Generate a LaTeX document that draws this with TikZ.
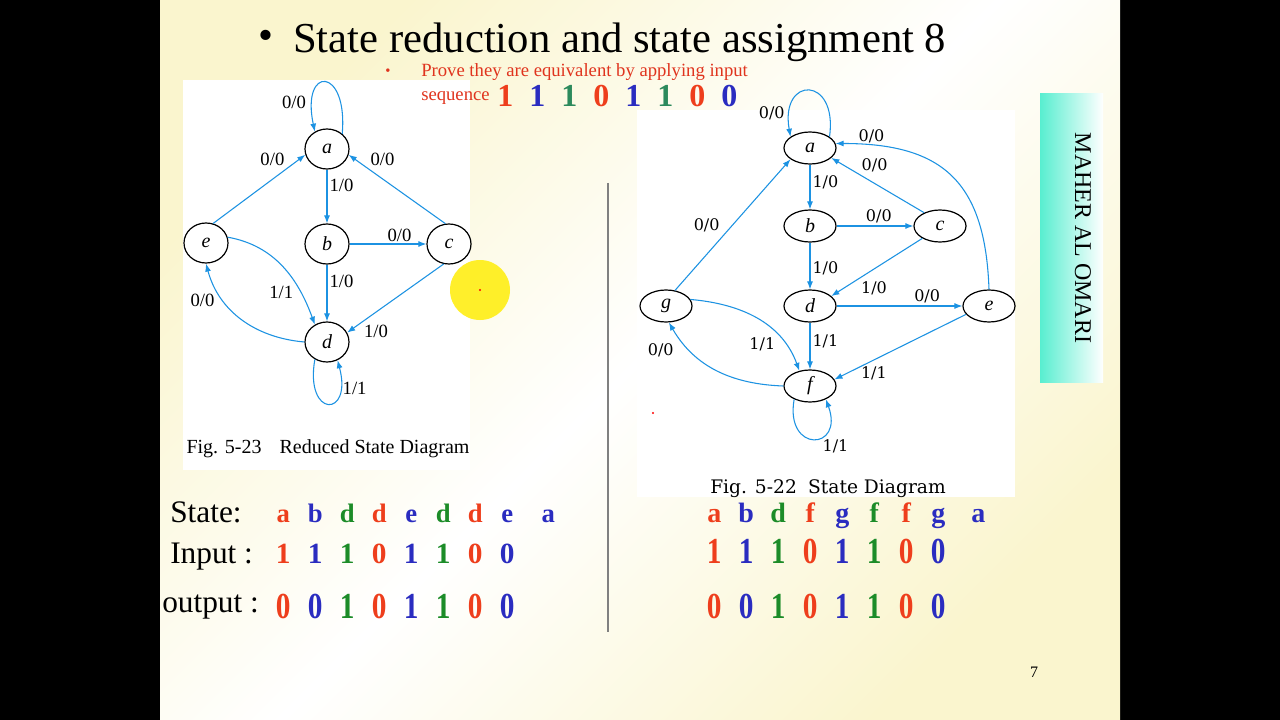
\documentclass[tikz,border=0pt]{standalone}
\usepackage{fontspec}
\setmainfont{Liberation Serif}
\newfontfamily\figfont{DejaVu Serif}
\usetikzlibrary{arrows.meta,shapes.geometric}
\definecolor{AzulFlecha}{RGB}{28,146,226}
\definecolor{RojoSec}{RGB}{238,62,28}
\definecolor{AzulSec}{RGB}{42,44,192}
\definecolor{VerdeSec}{RGB}{28,140,40}
\definecolor{VerdeAgua}{RGB}{44,138,92}
\definecolor{RojoTexto}{RGB}{224,52,30}
\definecolor{CremaFondo}{RGB}{250,245,206}
\definecolor{TurquesaAutor}{RGB}{88,238,208}
\definecolor{AmarilloPuntero}{RGB}{255,238,20}
\newcommand{\casilla}[2]{\makebox[24pt]{\textcolor{#1}{#2}}}

\begin{document}
\begin{tikzpicture}[x=0.75pt,y=0.75pt,>={Latex[length=6pt,width=4.5pt]},
  estado/.style={draw,ellipse,line width=0.9pt,inner sep=0pt,minimum width=33pt,minimum height=30pt,font=\fontsize{15}{15}\selectfont\itshape},
  estadoB/.style={draw,ellipse,line width=0.9pt,inner sep=0pt,minimum width=39pt,minimum height=24pt,font=\fontsize{15}{15}\selectfont\itshape},
  flecha/.style={->,AzulFlecha,line width=0.8pt},
  etiq/.style={font=\fontsize{14}{14}\selectfont,text=black,inner sep=1.5pt},
  etiqB/.style={font=\figfont\fontsize{12}{12}\selectfont,text=black,inner sep=1.5pt},
  fila/.style={anchor=base west,inner sep=0pt,font=\fontsize{22}{24}\selectfont\bfseries},
  rotulo/.style={anchor=base west,inner sep=0pt,font=\fontsize{23.5}{26}\selectfont}]
  % fondo de la diapositiva
  \useasboundingbox (0,0) rectangle (1280,-720);
  \fill[black] (0,0) rectangle (1280,-720);
  \shade[top color=CremaFondo,bottom color=CremaFondo,middle color=white,shading angle=45] (160,0) rectangle (1120,-720);
  \fill[white] (183,-80) rectangle (470,-470);
  \fill[white] (637,-110) rectangle (1015,-497);
  \draw[gray,line width=0.8pt] (608,-183) -- (608,-632);

  % titulo y enunciado
  \node[font=\fontsize{32}{36}\selectfont] (vineta) at (266,-40) {\textbullet};
  \node[anchor=base west,inner sep=0pt,font=\fontsize{32}{36}\selectfont] (titulo) at (293,-53) {State reduction and state assignment 8};
  \node[RojoTexto,font=\fontsize{11}{12}\selectfont] (vinetaRoja) at (388,-72) {\textbullet};
  \node[anchor=base west,inner sep=0pt,RojoTexto,font=\fontsize{14}{16}\selectfont] (enunciado) at (421,-77) {Prove they are equivalent by applying input};
  \node[anchor=base west,inner sep=0pt,RojoTexto,font=\fontsize{14}{16}\selectfont] (secuencia) at (421,-101) {sequence};
  \node[anchor=base west,inner sep=0pt,font=\fontsize{24}{26}\selectfont\bfseries] (digitos) at (489,-107)
    {\casilla{RojoSec}{1}\casilla{AzulSec}{1}\casilla{VerdeAgua}{1}\casilla{RojoSec}{0}\casilla{AzulSec}{1}\casilla{VerdeAgua}{1}\casilla{RojoSec}{0}\casilla{AzulSec}{0}};

  % diagrama reducido
  \node[estado] (a) at (327,-149) {a};
  \node[estado] (b) at (327,-244) {b};
  \node[estado] (c) at (449,-244) {c};
  \node[estado] (e) at (206,-243) {e};
  \node[estado] (d) at (327,-342) {d};
  \draw[flecha] (a.45) .. controls +(85:68) and +(102:68) .. (a.125) node[etiq,pos=.82,left=3pt] {0/0};
  \draw[flecha] (e.70) -- (a.195) node[etiq,pos=.8,above left] {0/0};
  \draw[flecha] (c.100) -- (a.345) node[etiq,pos=.8,above right] {0/0};
  \draw[flecha] (a) -- (b) node[etiq,pos=.3,right] {1/0};
  \draw[flecha] (b) -- (c) node[etiq,pos=.65,above] {0/0};
  \draw[flecha] (b) -- (d) node[etiq,pos=.3,right] {1/0};
  \draw[flecha] (c.255) -- (d.25) node[etiq,pos=.85,below right] {1/0};
  \draw[flecha] (e.15) to[out=-10,in=110] node[etiq,pos=.67,below left] {1/1} (d.125);
  \draw[flecha] (d.west) to[out=175,in=-75] node[etiq,pos=.7,left=5pt] {0/0} (e.south);
  \draw[flecha] (d.235) .. controls +(-100:60) and +(-75:60) .. (d.300) node[etiq,pos=.8,right] {1/1};
  \node[anchor=base,font=\fontsize{15}{16}\selectfont] (figIzq) at (328,-453) {Fig. 5-23\hspace{0.9em}Reduced State Diagram};

  % diagrama original
  \node[estadoB] (a2) at (810,-148) {a};
  \node[estadoB] (b2) at (810,-226) {b};
  \node[estadoB] (c2) at (940,-226) {c};
  \node[estadoB] (g2) at (666,-306) {g};
  \node[estadoB] (d2) at (810,-306) {d};
  \node[estadoB] (e2) at (989,-306) {e};
  \node[estadoB] (f2) at (810,-386) {f};
  \draw[flecha] (a2.30) .. controls +(82:62) and +(100:62) .. (a2.150) node[etiqB,pos=.85,left=2pt] {0/0};
  \draw[flecha] (e2.north) to[out=92,in=0,looseness=1.3] node[etiqB,pos=.88,above] {0/0} (a2.10);
  \draw[flecha] (c2.140) -- (a2.335) node[etiqB,pos=.7,above right] {0/0};
  \draw[flecha] (a2) -- (b2) node[etiqB,pos=.4,right] {1/0};
  \draw[flecha] (b2) -- (c2) node[etiqB,pos=.55,above] {0/0};
  \draw[flecha] (b2) -- (d2) node[etiqB,pos=.55,right] {1/0};
  \draw[flecha] (c2.215) -- (d2.25) node[etiqB,pos=.7,below right] {1/0};
  \draw[flecha] (d2) -- (e2) node[etiqB,pos=.72,above] {0/0};
  \draw[flecha] (g2.60) -- (a2.210) node[etiqB,pos=.5,left=8pt] {0/0};
  \draw[flecha] (g2.15) to[out=-5,in=110] node[etiqB,pos=.7,below left] {1/1} (f2.125);
  \draw[flecha] (f2.west) to[out=178,in=-60] node[etiqB,pos=.76,left=10pt] {0/0} (g2.280);
  \draw[flecha] (d2) -- (f2) node[etiqB,pos=.4,right] {1/1};
  \draw[flecha] (e2.200) -- (f2.15) node[etiqB,pos=.7,below=3pt] {1/1};
  \draw[flecha] (f2.220) .. controls +(-100:55) and +(-70:55) .. (f2.320) node[etiqB,pos=.6,below right] {1/1};
  \node[anchor=base,font=\figfont\fontsize{14}{15}\selectfont] (figDer) at (828,-493) {Fig. 5-22\hspace{0.6em}State Diagram};

  % tabla de la izquierda
  \node[rotulo] (lblEstado) at (170,-522) {State:};
  \node[rotulo] (lblEntrada) at (170,-563) {Input :};
  \node[rotulo] (lblSalida) at (162,-612) {output :};
  \node[fila,font=\fontsize{20}{22}\selectfont\bfseries] (estIzq) at (267,-522)
    {\casilla{RojoSec}{a}\casilla{AzulSec}{b}\casilla{VerdeSec}{d}\casilla{RojoSec}{d}\casilla{AzulSec}{e}\casilla{VerdeSec}{d}\casilla{RojoSec}{d}\casilla{AzulSec}{e}\hspace{6.75pt}\casilla{AzulSec}{a}};
  \node[fila] (entIzq) at (267,-563)
    {\casilla{RojoSec}{1}\casilla{AzulSec}{1}\casilla{VerdeSec}{1}\casilla{RojoSec}{0}\casilla{AzulSec}{1}\casilla{VerdeSec}{1}\casilla{RojoSec}{0}\casilla{AzulSec}{0}};
  \node[fila] (salIzq) at (267,-618)
    {\scalebox{1}[1.25]{\casilla{RojoSec}{0}\casilla{AzulSec}{0}\casilla{VerdeSec}{1}\casilla{RojoSec}{0}\casilla{AzulSec}{1}\casilla{VerdeSec}{1}\casilla{RojoSec}{0}\casilla{AzulSec}{0}}};

  % tabla de la derecha
  \node[fila,font=\fontsize{21}{22}\selectfont\bfseries] (estDer) at (698,-522)
    {\casilla{RojoSec}{a}\casilla{AzulSec}{b}\casilla{VerdeSec}{d}\casilla{RojoSec}{f}\casilla{AzulSec}{g}\casilla{VerdeSec}{f}\casilla{RojoSec}{f}\casilla{AzulSec}{g}\hspace{6pt}\casilla{AzulSec}{a}};
  \node[fila] (entDer) at (698,-563)
    {\scalebox{1}[1.25]{\casilla{RojoSec}{1}\casilla{AzulSec}{1}\casilla{VerdeSec}{1}\casilla{RojoSec}{0}\casilla{AzulSec}{1}\casilla{VerdeSec}{1}\casilla{RojoSec}{0}\casilla{AzulSec}{0}}};
  \node[fila] (salDer) at (698,-618)
    {\scalebox{1}[1.25]{\casilla{RojoSec}{0}\casilla{AzulSec}{0}\casilla{VerdeSec}{1}\casilla{RojoSec}{0}\casilla{AzulSec}{1}\casilla{VerdeSec}{1}\casilla{RojoSec}{0}\casilla{AzulSec}{0}}};

  % autor, puntero y numero de pagina
  \shade[left color=TurquesaAutor,right color=white] (1040,-94) rectangle (1103,-382);
  \node[rotate=-90,font=\fontsize{18}{20}\selectfont] (autor) at (1083,-238) {MAHER AL OMARI};
  \fill[AmarilloPuntero,opacity=0.9] (480,-290) circle (30);
  \fill[red] (480,-290) circle (1.2);
  \fill[red] (653,-413) circle (1.2);
  \node[font=\fontsize{12}{12}\selectfont] (pagina) at (1034,-672) {7};
\end{tikzpicture}
\end{document}
